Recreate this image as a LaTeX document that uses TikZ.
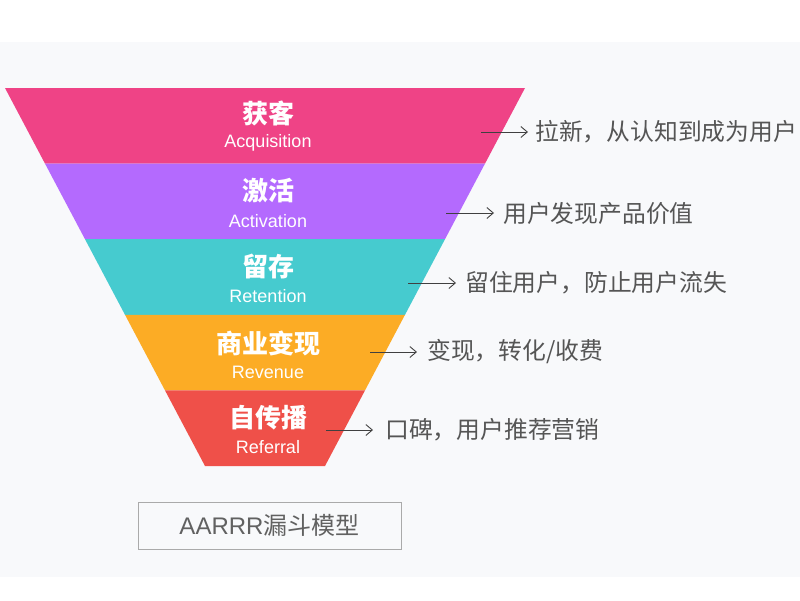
\documentclass[tikz,border=0pt]{standalone}
\usepackage{fontspec}
\setmainfont{Noto Sans CJK SC}
\newfontfamily\latinf{Liberation Sans}
\usetikzlibrary{arrows.meta}
\definecolor{bgray}{HTML}{F8F9FB}
\definecolor{cpink}{HTML}{EF4386}
\definecolor{cpurple}{HTML}{B46AFE}
\definecolor{cteal}{HTML}{46CBCF}
\definecolor{corange}{HTML}{FCAC25}
\definecolor{cred}{HTML}{EF5049}
\definecolor{txtgray}{HTML}{555555}
\definecolor{boxgray}{HTML}{AAAAAA}
\begin{document}
\begin{tikzpicture}[x=1pt,y=-1pt,
  cnttl/.style={text=white,font=\fontsize{26}{28}\selectfont\bfseries,inner sep=0pt},
  entl/.style={text=white,font=\latinf\fontsize{18}{20}\selectfont,inner sep=0pt},
  desc/.style={text=txtgray,font=\fontsize{23.8}{25}\selectfont,anchor=west,inner sep=0pt},
  arr/.style={draw=black!75,line width=0.9pt,-{Straight Barb[length=6.5pt,width=11pt]}}]
\useasboundingbox (0,0) rectangle (800,600);
\fill[white] (0,0) rectangle (800,600);
\fill[bgray] (0,42) rectangle (800,577);
% funnel bands
\fill[cpink]   (5,88) -- (525,88) -- (485,163.6) -- (45,163.6) -- cycle;
\fill[cpurple] (45,163.6) -- (485,163.6) -- (445,239.2) -- (85,239.2) -- cycle;
\fill[cteal]   (85,239.2) -- (445,239.2) -- (405,314.8) -- (125,314.8) -- cycle;
\fill[corange] (125,314.8) -- (405,314.8) -- (365,390.4) -- (165,390.4) -- cycle;
\fill[cred]    (165,390.4) -- (365,390.4) -- (325,466) -- (205,466) -- cycle;
% titles
\node[cnttl] (t1) at (268,113) {获客};
\node[entl]  (e1) at (268,143) {Acquisition};
\node[cnttl] (t2) at (268,191) {激活};
\node[entl]  (e2) at (268,221) {Activation};
\node[cnttl] (t3) at (268,267) {留存};
\node[entl]  (e3) at (268,296) {Retention};
\node[cnttl] (t4) at (268,343) {商业变现};
\node[entl]  (e4) at (268,372) {Revenue};
\node[cnttl] (t5) at (268,418) {自传播};
\node[entl]  (e5) at (268,447) {Referral};
% descriptions
\node[desc] (d1) at (535,132) {拉新，从认知到成为用户};
\node[desc] (d2) at (503,213) {用户发现产品价值};
\node[desc] (d3) at (465,283) {留住用户，防止用户流失};
\node[desc] (d4) at (427,352) {变现，转化/收费};
\node[desc] (d5) at (385,430) {口碑，用户推荐营销};
\coordinate (s1) at (481,132);
\coordinate (s2) at (446,213);
\coordinate (s3) at (408,283);
\coordinate (s4) at (370,352);
\coordinate (s5) at (326,430);
\draw[arr] (s1) -- ([xshift=-7pt]d1.west);
\draw[arr] (s2) -- ([xshift=-9pt]d2.west);
\draw[arr] (s3) -- ([xshift=-9pt]d3.west);
\draw[arr] (s4) -- ([xshift=-10pt]d4.west);
\draw[arr] (s5) -- ([xshift=-12pt]d5.west);
% caption box
\node[draw=boxgray,line width=1pt,fill=bgray,minimum width=263pt,minimum height=47pt,
      text=black!62,font=\fontsize{24}{26}\selectfont,inner sep=0pt] (cap) at (269.5,525.5)
      {{\latinf AARRR}漏斗模型};
\end{tikzpicture}
\end{document}
